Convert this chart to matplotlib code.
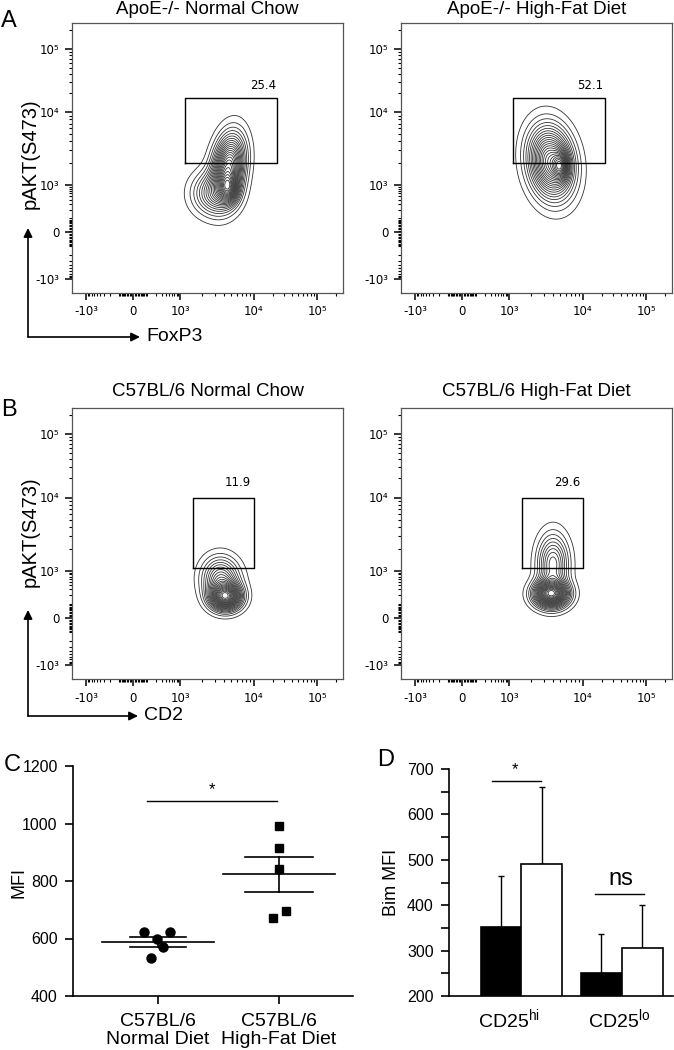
import numpy as np
import matplotlib
matplotlib.use('Agg')
import matplotlib.pyplot as plt
from matplotlib.patches import FancyArrowPatch
from matplotlib.ticker import FixedLocator, FixedFormatter, NullFormatter

plt.rcParams['font.family'] = ['Liberation Sans', 'DejaVu Sans']
plt.rcParams['mathtext.fontset'] = 'custom'
plt.rcParams['mathtext.rm'] = 'Liberation Sans'
plt.rcParams['mathtext.it'] = 'Liberation Sans:italic'
plt.rcParams['mathtext.bf'] = 'Liberation Sans:bold'

# ---------------- data ----------------
flow_titles = ["ApoE-/- Normal Chow", "ApoE-/- High-Fat Diet",
               "C57BL/6 Normal Chow", "C57BL/6 High-Fat Diet"]
flow_xlabels = ["FoxP3", "CD2"]
flow_ylabel = "pAKT(S473)"
gate_pcts = ["25.4", "52.1", "11.9", "29.6"]
gate_x = [(1170, 23400), (1150, 23000), (1500, 10000), (1500, 10000)]
gate_y = [(2050, 16900), (2050, 16900), (1100, 9800), (1100, 9800)]
gate_label_xy = [(14100, 26100), (13000, 26100), (6150, 17500), (6150, 17500)]
# population components: (x centre, y centre, x spread, y spread, lean in degrees, weight)
# spreads are in display units of the biexponential axes
populations = [
    [(4600, 1800, 10, 21, 8, 1.0), (4640, 825, 6, 9, 0, 0.5), (2900, 598, 14, 14, 0, 0.45)],
    [(3730, 2050, 14, 23, -8, 1.0), (5100, 1870, 5, 9, 0, 0.5)],
    [(4200, 178, 10, 8.5, 0, 1.0), (3600, 598, 12, 14, -5, 0.5)],
    [(3730, 220, 11, 8.5, 0, 1.0), (3970, 1245, 10, 19, 0, 0.45)],
]
flow_major = [-1000, 0, 1000, 1e4, 1e5]
flow_major_labels = ["-10³", "0", "10³", "10⁴", "10⁵"]

c_groups = ["C57BL/6\nNormal Diet", "C57BL/6\nHigh-Fat Diet"]
c_normal = [622, 624, 597, 571, 531]
c_hfd = [991, 916, 841, 697, 672]
c_jit_normal = [-0.116, 0.099, -0.008, 0.041, -0.058]
c_jit_hfd = [0.0, 0.0, 0.0, 0.058, -0.05]
c_sig = 1078

d_groups = [r'CD25$^{\mathrm{hi}}$', r'CD25$^{\mathrm{lo}}$']
d_black = [351, 251]
d_white = [491, 306]
d_black_err = [113, 86]
d_white_err = [169, 94]
d_sig = [674, 425]
d_sig_text = ["*", "ns"]

# ---------------- figure ----------------
W, H = 674, 1050
fig = plt.figure(figsize=(W / 100, H / 100), dpi=100)

def fx(px):
    return px / W

def fy(py):
    return 1 - py / H

def add_ax(l, t, r, b):
    return fig.add_axes([fx(l), fy(b), fx(r) - fx(l), (b - t) / H])

# biexponential-like display scale
C0 = 100.0
anchor_v = np.array([-1000, 0, 1000, 1e4, 1e5])
anchor_p = np.array([14, 61, 108, 181.5, 245])
ua = np.arcsinh(anchor_v / C0)
s_lo = (anchor_p[1] - anchor_p[0]) / (ua[1] - ua[0])
s_hi = (anchor_p[-1] - anchor_p[-2]) / (ua[-1] - ua[-2])
U = np.concatenate([[ua[0] - 30], ua, [ua[-1] + 30]])
P = np.concatenate([[anchor_p[0] - 30 * s_lo], anchor_p, [anchor_p[-1] + 30 * s_hi]])

def fwd(v):
    return np.interp(np.arcsinh(np.asarray(v, float) / C0), U, P)

def inv(p):
    return C0 * np.sinh(np.interp(np.asarray(p, float), P, U))

SPAN = 271.0
lim = (float(inv(0)), float(inv(SPAN)))

minor = []
for n in (1, 2):
    for k in range(1, 10):
        minor += [k * 10 ** n, -k * 10 ** n]
for n in (3, 4):
    for k in range(2, 10):
        minor.append(k * 10 ** n)
minor.append(2e5)

boxes = [(72, 23, 343, 293), (401, 23, 672, 293), (72, 408, 343, 679), (401, 408, 672, 679)]
title_y = [9, 9, 392, 392]

grid = np.linspace(0, SPAN, 400)
PX, PY = np.meshgrid(grid, grid)
XD, YD = inv(PX), inv(PY)

for i in range(4):
    l, t, r, b = boxes[i]
    ax = add_ax(l, t, r, b)
    ax.set_xscale('function', functions=(fwd, inv))
    ax.set_yscale('function', functions=(fwd, inv))
    ax.set_xlim(lim)
    ax.set_ylim(lim)
    for s in ax.spines.values():
        s.set_color('#555555')
        s.set_linewidth(0.9)
    for axis in (ax.xaxis, ax.yaxis):
        axis.set_major_locator(FixedLocator(flow_major))
        axis.set_major_formatter(FixedFormatter(flow_major_labels))
        axis.set_minor_locator(FixedLocator(minor))
        axis.set_minor_formatter(NullFormatter())
    ax.tick_params(which='major', direction='out', length=5, width=1.1, color='black',
                   labelsize=8.5, pad=4)
    ax.tick_params(which='minor', direction='out', length=2.5, width=0.8, color='black')
    for lab in ax.get_xticklabels() + ax.get_yticklabels():
        lab.set_fontfamily('DejaVu Sans')
    # density of the population (display space)
    Z = np.zeros_like(PX)
    for (cx, cy, sx, sy, lean, w) in populations[i]:
        a = np.deg2rad(lean)
        dx = PX - fwd(cx)
        dy = PY - fwd(cy)
        along = dx * np.sin(a) + dy * np.cos(a)
        across = dx * np.cos(a) - dy * np.sin(a)
        Z += w * np.exp(-0.5 * ((across / sx) ** 2 + (along / sy) ** 2))
    levels = np.linspace(0.035, 0.96, 23) * Z.max()
    ax.contour(XD, YD, Z, levels=levels, colors='#333333', linewidths=0.6)
    # gate
    gx0, gx1 = gate_x[i]
    gy0, gy1 = gate_y[i]
    ax.plot([gx0, gx1, gx1, gx0, gx0], [gy0, gy0, gy1, gy1, gy0], color='black', lw=1.0)
    ax.text(gate_label_xy[i][0], gate_label_xy[i][1], gate_pcts[i], ha='center', va='center',
            fontsize=8.5, family='DejaVu Sans')
    fig.text(fx((l + r) / 2), fy(title_y[i]), flow_titles[i], ha='center', va='center', fontsize=13.5)

# panel letters
for letter, (px, py) in zip("ABCD", [(9, 21), (9, 410), (12, 765), (386, 760)]):
    fig.text(fx(px), fy(py), letter, ha='center', va='center', fontsize=17)

# axis arrows and labels
for (cx, cy, ytip, xtip, lab, ylab_y) in [(28, 337, 228, 140, flow_xlabels[0], 154),
                                          (28, 716, 610, 138, flow_xlabels[1], 532)]:
    for (x2, y2) in [(cx, ytip), (xtip, cy)]:
        arr = FancyArrowPatch((fx(cx), fy(cy)), (fx(x2), fy(y2)), transform=fig.transFigure,
                              arrowstyle='-|>', mutation_scale=13, lw=1.2, color='black',
                              shrinkA=0, shrinkB=0)
        fig.add_artist(arr)
    fig.text(fx(xtip + 6), fy(cy), lab, ha='left', va='center', fontsize=14)
    fig.text(fx(30), fy(ylab_y), flow_ylabel, ha='center', va='center', rotation=90, fontsize=14.5)

# ---------------- panel C ----------------
axc = add_ax(73, 766, 353, 996)
axc.set_xlim(-0.70, 1.61)
axc.set_ylim(400, 1200)
for s in ('top', 'right'):
    axc.spines[s].set_visible(False)
for s in ('left', 'bottom'):
    axc.spines[s].set_linewidth(1.2)
axc.set_yticks([400, 600, 800, 1000, 1200])
axc.set_xticks([0, 1])
axc.set_xticklabels(c_groups, fontsize=14, linespacing=1.1)
axc.tick_params(axis='y', direction='out', length=6, width=1.2, labelsize=11.5, pad=5)
axc.tick_params(axis='x', direction='out', length=6, width=1.2, pad=6)
fig.text(fx(19), fy(882), "MFI", rotation=90, ha='center', va='center', fontsize=13)
axc.plot(np.array(c_jit_normal) + 0, c_normal, 'o', color='black', ms=6.5, clip_on=False)
axc.plot(np.array(c_jit_hfd) + 1, c_hfd, 's', color='black', ms=6.3, clip_on=False)
for xpos, vals, hw_sem in [(0, c_normal, 0.23), (1, c_hfd, 0.28)]:
    v = np.array(vals, float)
    m = v.mean()
    sem = v.std(ddof=1) / np.sqrt(len(v))
    axc.plot([xpos - 0.46, xpos + 0.46], [m, m], color='black', lw=1.2)
    axc.plot([xpos - hw_sem, xpos + hw_sem], [m + sem, m + sem], color='black', lw=1.2)
    axc.plot([xpos - hw_sem, xpos + hw_sem], [m - sem, m - sem], color='black', lw=1.2)
    axc.plot([xpos, xpos], [m - sem, m + sem], color='black', lw=1.2)
axc.plot([-0.09, 0.98], [c_sig, c_sig], color='black', lw=1.0)
axc.text(0.445, c_sig + 12, "*", ha='center', va='bottom', fontsize=12)

# ---------------- panel D ----------------
axd = add_ax(449, 769, 673, 996)
axd.set_xlim(-0.72, 1.51)
axd.set_ylim(200, 700)
for s in ('top', 'right'):
    axd.spines[s].set_visible(False)
for s in ('left', 'bottom'):
    axd.spines[s].set_linewidth(1.2)
xg = np.arange(len(d_groups))
bw = 0.406
axd.bar(xg - bw / 2, d_black, width=bw, color='black', edgecolor='black', lw=1.2, zorder=2)
axd.bar(xg + bw / 2, d_white, width=bw, color='white', edgecolor='black', lw=1.2, zorder=2)
axd.errorbar(xg - bw / 2, d_black, yerr=[np.zeros(2), d_black_err], fmt='none', ecolor='black',
             elinewidth=1.0, capsize=2.5, capthick=1.0, zorder=1)
axd.errorbar(xg + bw / 2, d_white, yerr=[np.zeros(2), d_white_err], fmt='none', ecolor='black',
             elinewidth=1.0, capsize=2.5, capthick=1.0, zorder=1)
axd.set_yticks([200, 300, 400, 500, 600, 700])
axd.set_yticks([250, 350, 450, 550, 650], minor=True)
axd.tick_params(axis='y', which='both', direction='out', length=6, width=1.2, labelsize=11.5, pad=5)
axd.set_xticks([-0.12, 0.97])
axd.set_xticklabels(d_groups, fontsize=14)
axd.tick_params(axis='x', length=0, pad=8)
fig.text(fx(392), fy(882), "Bim MFI", rotation=90, ha='center', va='center', fontsize=13)
axd.plot([-0.29, 0.20], [d_sig[0], d_sig[0]], color='black', lw=1.0, clip_on=False)
axd.text(-0.06, d_sig[0] + 8, d_sig_text[0], ha='center', va='bottom', fontsize=12)
axd.plot([0.73, 1.22], [d_sig[1], d_sig[1]], color='black', lw=1.0)
axd.text(0.99, d_sig[1] + 8, d_sig_text[1], ha='center', va='bottom', fontsize=17)

fig.savefig('out.png', dpi=100)
